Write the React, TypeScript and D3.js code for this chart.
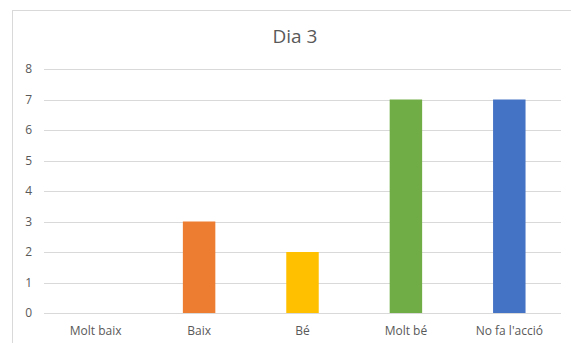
import React from "react";
import * as d3 from "d3";

const categories = ["Molt baix", "Baix", "Bé", "Molt bé", "No fa l'acció"];
const values = [0, 3, 2, 7, 7];
const colors = ["#A5A5A5", "#ED7D31", "#FFC000", "#70AD47", "#4472C4"];
const yTicks = [0, 1, 2, 3, 4, 5, 6, 7, 8];
const title = "Dia 3";

const W = 571;
const H = 343;
const plot = { left: 44, right: 561, top: 69, bottom: 313 };
const font = "'Open Sans', sans-serif";
const textColor = "#595959";

export default function App() {
  const x = d3
    .scaleBand<string>()
    .domain(categories)
    .range([plot.left, plot.right])
    .paddingInner(0.686)
    .paddingOuter(0.343);
  const y = d3.scaleLinear().domain([0, 8]).range([plot.bottom, plot.top]);

  return (
    <svg
      width={W}
      height={H}
      style={{ position: "fixed", left: 0, top: 0, background: "#fff" }}
    >
      <rect x={0} y={0} width={W} height={H} fill="#fff" />
      <rect
        x={12.5}
        y={10.5}
        width={700}
        height={500}
        fill="#fff"
        stroke="#d9d9d9"
        strokeWidth={1}
      />
      <text
        x={295}
        y={42.7}
        textAnchor="middle"
        fontFamily={font}
        fontSize={19}
        fill={textColor}
      >
        {title}
      </text>
      {yTicks.map((t) => (
        <g key={t}>
          <line
            x1={plot.left}
            x2={plot.right}
            y1={Math.round(y(t)) + 0.5}
            y2={Math.round(y(t)) + 0.5}
            stroke="#d9d9d9"
            strokeWidth={1}
          />
          <text
            x={32}
            y={y(t) + 4.3}
            textAnchor="end"
            fontFamily={font}
            fontSize={12}
            fill={textColor}
          >
            {t}
          </text>
        </g>
      ))}
      {categories.map((c, i) => (
        <rect
          key={c}
          x={x(c)}
          y={y(values[i])}
          width={x.bandwidth()}
          height={y(0) - y(values[i])}
          fill={colors[i]}
        />
      ))}
      {categories.map((c) => (
        <text
          key={c}
          x={(x(c) as number) + x.bandwidth() / 2}
          y={335}
          textAnchor="middle"
          fontFamily={font}
          fontSize={12}
          fill={textColor}
        >
          {c}
        </text>
      ))}
    </svg>
  );
}
